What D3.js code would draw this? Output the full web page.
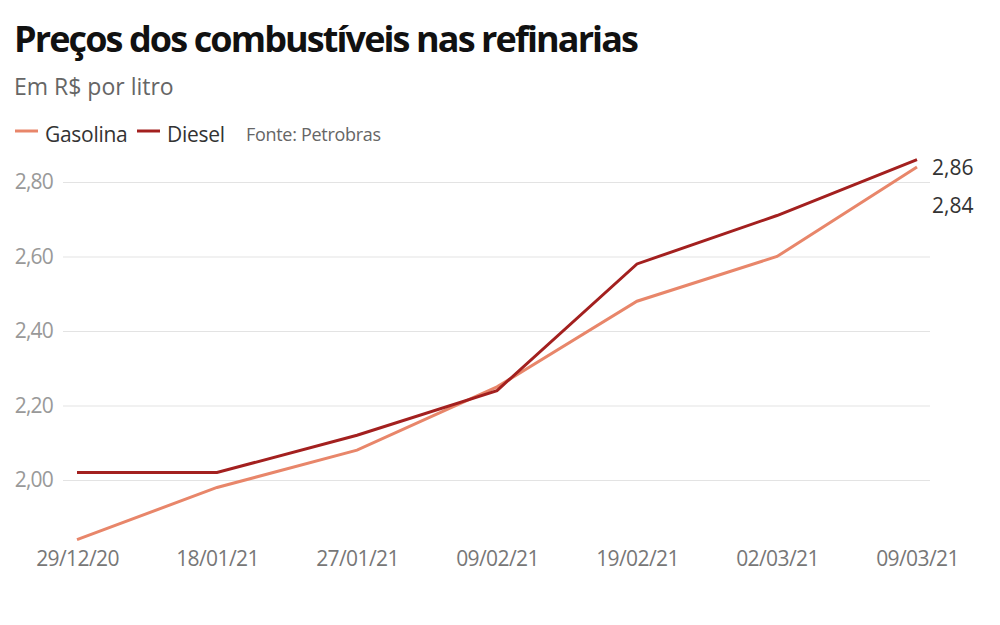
<!DOCTYPE html>
<meta charset="utf-8">
<script src="https://d3js.org/d3.v7.min.js"></script>
<style>
  body { margin: 0; background: #fff; }
  text { font-family: "Open Sans", sans-serif; }
</style>
<body>
<div id="chart"></div>
<script>
    // data
    var dates = ["29/12/20", "18/01/21", "27/01/21", "09/02/21", "19/02/21", "02/03/21", "09/03/21"];
    var gasolina = [1.84, 1.98, 2.08, 2.25, 2.48, 2.60, 2.84];
    var diesel = [2.02, 2.02, 2.12, 2.24, 2.58, 2.71, 2.86];
    var yTicks = [2.0, 2.2, 2.4, 2.6, 2.8];

    var width = 1000, height = 625;
    var margin = {top: 182, right: 83, bottom: 85, left: 77};

    var svg = d3.select("#chart")
      .append("svg")
        .attr("width", width)
        .attr("height", height);

    var x = d3.scalePoint()
        .domain(dates)
        .range([margin.left, width - margin.right]);

    var y = d3.scaleLinear()
        .domain([2.0, 2.8])
        .range([480, 182]);

    var fmt = function(v) { return d3.format(".2f")(v).replace(".", ","); };

    // gridlines + y labels
    var yAxis = svg.append("g")
        .attr("transform", "translate(63,0)")
        .call(d3.axisLeft(y).tickValues(yTicks).tickSize(-867).tickFormat(fmt).tickPadding(10));
    yAxis.select(".domain").remove();
    yAxis.selectAll(".tick line").attr("stroke", "#e3e3e3").attr("stroke-width", 1);
    yAxis.selectAll(".tick text")
        .attr("fill", "#999")
        .style("font-size", "21px")
        .style("letter-spacing", "-0.8px");

    // x labels
    var xAxis = svg.append("g")
        .attr("transform", "translate(0,541)")
        .call(d3.axisBottom(x).tickSize(0).tickPadding(10));
    xAxis.select(".domain").remove();
    xAxis.selectAll(".tick text")
        .attr("fill", "#777")
        .style("font-size", "21px")
        .style("letter-spacing", "-0.6px");

    var line = d3.line()
        .x(function(d, i) { return x(dates[i]); })
        .y(function(d) { return y(d); });

    svg.append("path")
        .datum(gasolina)
        .attr("fill", "none")
        .attr("stroke", "#e8866a")
        .attr("stroke-width", 3)
        .attr("d", line);

    svg.append("path")
        .datum(diesel)
        .attr("fill", "none")
        .attr("stroke", "#a3201f")
        .attr("stroke-width", 3)
        .attr("d", line);

    // end labels
    var last = dates.length - 1;
    svg.append("text")
        .attr("x", x(dates[last]) + 15)
        .attr("y", y(diesel[last]) + 15)
        .attr("fill", "#333")
        .style("font-size", "21px")
        .text(fmt(diesel[last]));
    svg.append("text")
        .attr("x", x(dates[last]) + 15)
        .attr("y", y(gasolina[last]) + 46)
        .attr("fill", "#333")
        .style("font-size", "21px")
        .text(fmt(gasolina[last]));

    // title
    svg.append("text")
        .attr("x", 14)
        .attr("y", 52)
        .attr("fill", "#111")
        .style("font-size", "36px")
        .style("font-weight", "700")
        .style("letter-spacing", "-1.9px")
        .text("Preços dos combustíveis nas refinarias");

    svg.append("text")
        .attr("x", 14)
        .attr("y", 95)
        .attr("fill", "#666")
        .style("font-size", "23px")
        .text("Em R$ por litro");

    // legend
    var legend = [["Gasolina", "#e8866a", 15], ["Diesel", "#a3201f", 137]];
    legend.forEach(function(l) {
        svg.append("line")
            .attr("x1", l[2]).attr("x2", l[2] + 23)
            .attr("y1", 131).attr("y2", 131)
            .attr("stroke", l[1]).attr("stroke-width", 3);
        svg.append("text")
            .attr("x", l[2] + 30)
            .attr("y", 142)
            .attr("fill", "#333")
            .style("font-size", "21px")
            .style("letter-spacing", "-0.3px")
            .text(l[0]);
    });
    svg.append("text")
        .attr("x", 246)
        .attr("y", 141)
        .attr("fill", "#666")
        .style("font-size", "18px")
        .style("letter-spacing", "-0.3px")
        .text("Fonte: Petrobras");
</script>
</body>
